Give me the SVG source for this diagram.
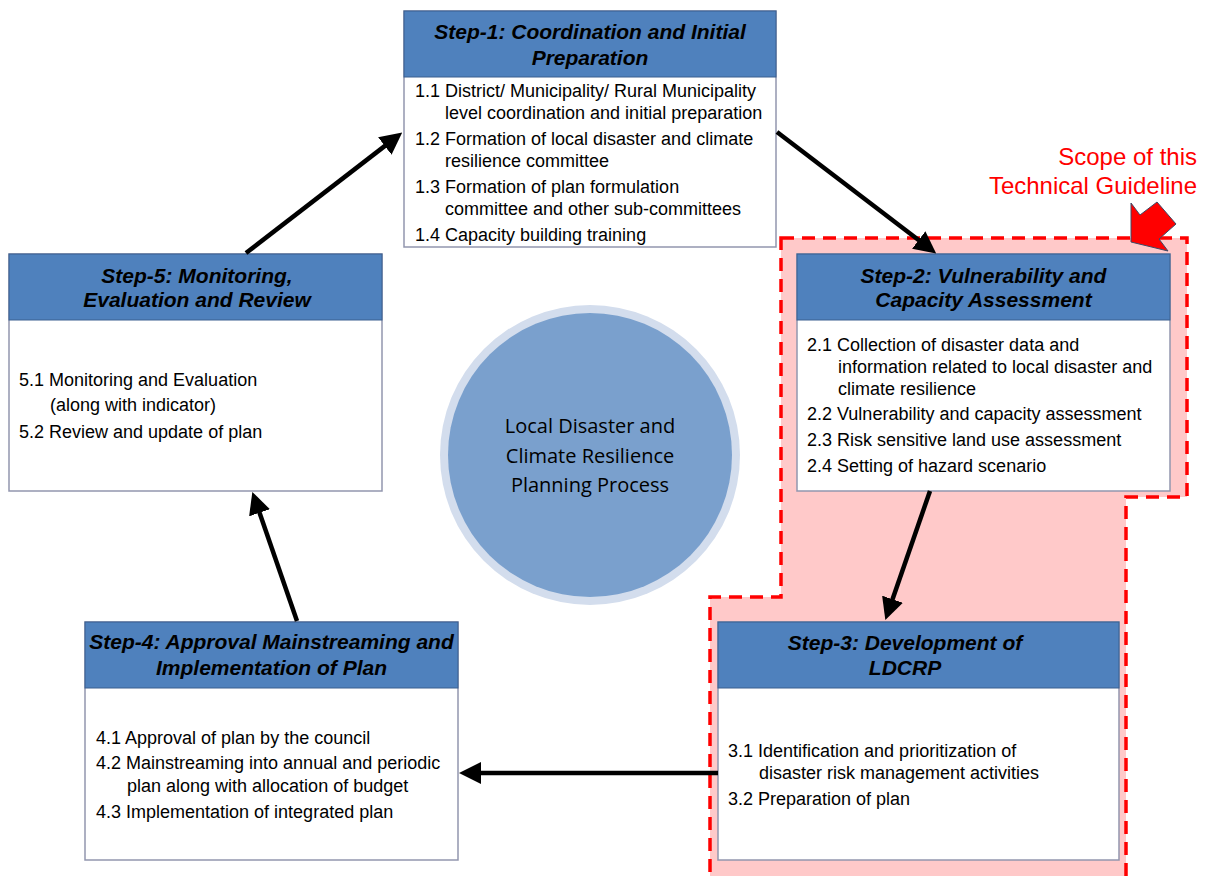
<svg xmlns="http://www.w3.org/2000/svg" width="1207" height="876" viewBox="0 0 1207 876">
<style>
.hdr{fill:#4f81bd;stroke:#3b5f8f;stroke-width:1}
.body{fill:#ffffff;stroke:#9296ae;stroke-width:1.5}
.ht{font-family:"Liberation Sans",Arial,sans-serif;font-size:21px;font-weight:bold;font-style:italic;fill:#000;text-anchor:middle}
.bt{font-family:"Liberation Sans",Arial,sans-serif;font-size:18px;fill:#000}
.ct{font-family:"Open Sans","Noto Sans",sans-serif;font-size:20px;fill:#000;text-anchor:middle}
.rt{font-family:"Liberation Sans",Arial,sans-serif;font-size:24px;fill:#ff0000;text-anchor:end}
.conn{stroke:#000;stroke-width:4.5;fill:none;marker-end:url(#ah)}
</style>
<defs>
<marker id="ah" markerUnits="userSpaceOnUse" markerWidth="22" markerHeight="22" viewBox="0 0 22 22" refX="1" refY="11" orient="auto">
<path d="M0,0 L22,11 L0,22 z" fill="#000"/>
</marker>
</defs>
<rect width="1207" height="876" fill="#ffffff"/>

<g id="scope">
<path d="M781,238 L1187,238 L1187,497 L1126,497 L1126,880 L710,880 L710,597 L781,597 Z" fill="#ffc9c9" stroke="#ff0000" stroke-width="3.5" stroke-dasharray="13,8"/>
<text class="rt" x="1197" y="165">Scope of this</text>
<text class="rt" x="1197" y="194">Technical Guideline</text>
<polygon points="1131,203 1140,215 1157,202 1176,224 1159,239 1168,251 1131,242" fill="#ff0000" stroke="#3c4a66" stroke-width="1"/>
</g>

<g id="center">
<circle cx="590" cy="455" r="150" fill="#d3dded"/>
<circle cx="590" cy="455" r="142" fill="#7aa0cd"/>
<text class="ct" x="590" y="433">Local Disaster and</text>
<text class="ct" x="590" y="463">Climate Resilience</text>
<text class="ct" x="590" y="492">Planning Process</text>
</g>

<g id="step1">
<rect class="body" x="404" y="11" width="372" height="236"/>
<rect class="hdr" x="404" y="11" width="372" height="66"/>
<text class="ht" x="590" y="39">Step-1: Coordination and Initial</text>
<text class="ht" x="590" y="65">Preparation</text>
<text class="bt" x="415" y="97">1.1 District/ Municipality/ Rural Municipality</text>
<text class="bt" x="445" y="119">level coordination and initial preparation</text>
<text class="bt" x="415" y="145">1.2 Formation of local disaster and climate</text>
<text class="bt" x="445" y="167">resilience committee</text>
<text class="bt" x="415" y="193">1.3 Formation of plan formulation</text>
<text class="bt" x="445" y="215">committee and other sub-committees</text>
<text class="bt" x="415" y="241">1.4 Capacity building training</text>
</g>

<g id="step2">
<rect class="body" x="797" y="254" width="373" height="237"/>
<rect class="hdr" x="797" y="254" width="373" height="66"/>
<text class="ht" x="983.5" y="283">Step-2: Vulnerability and</text>
<text class="ht" x="983.5" y="307">Capacity Assessment</text>
<text class="bt" x="807" y="351">2.1 Collection of disaster data and</text>
<text class="bt" x="838" y="373">information related to local disaster and</text>
<text class="bt" x="838" y="395">climate resilience</text>
<text class="bt" x="807" y="420">2.2 Vulnerability and capacity assessment</text>
<text class="bt" x="807" y="446">2.3 Risk sensitive land use assessment</text>
<text class="bt" x="807" y="472">2.4 Setting of hazard scenario</text>
</g>

<g id="step3">
<rect class="body" x="718" y="622" width="401" height="238"/>
<rect class="hdr" x="718" y="622" width="401" height="66"/>
<text class="ht" x="905" y="650">Step-3: Development of</text>
<text class="ht" x="905" y="675">LDCRP</text>
<text class="bt" x="728" y="757">3.1 Identification and prioritization of</text>
<text class="bt" x="759" y="779">disaster risk management activities</text>
<text class="bt" x="728" y="805">3.2 Preparation of plan</text>
</g>

<g id="step4">
<rect class="body" x="85" y="622" width="373" height="238"/>
<rect class="hdr" x="85" y="622" width="373" height="66"/>
<text class="ht" x="271.5" y="649">Step-4: Approval Mainstreaming and</text>
<text class="ht" x="271.5" y="675">Implementation of Plan</text>
<text class="bt" x="96" y="744">4.1 Approval of plan by the council</text>
<text class="bt" x="96" y="769">4.2 Mainstreaming into annual and periodic</text>
<text class="bt" x="127" y="792">plan along with allocation of budget</text>
<text class="bt" x="96" y="818">4.3 Implementation of integrated plan</text>
</g>

<g id="step5">
<rect class="body" x="9" y="254" width="373" height="237"/>
<rect class="hdr" x="9" y="254" width="373" height="66"/>
<text class="ht" x="197" y="283">Step-5: Monitoring,</text>
<text class="ht" x="197" y="307">Evaluation and Review</text>
<text class="bt" x="19" y="386">5.1 Monitoring and Evaluation</text>
<text class="bt" x="50" y="411">(along with indicator)</text>
<text class="bt" x="19" y="438">5.2 Review and update of plan</text>
</g>

<g id="connectors">
<line class="conn" x1="246" y1="253" x2="385.6" y2="145.4"/>
<line class="conn" x1="777" y1="132" x2="919.5" y2="240.7"/>
<line class="conn" x1="930" y1="491" x2="892.2" y2="600.2"/>
<line class="conn" x1="718" y1="773" x2="480" y2="773"/>
<line class="conn" x1="297" y1="621" x2="259.2" y2="511.8"/>
</g>
</svg>
